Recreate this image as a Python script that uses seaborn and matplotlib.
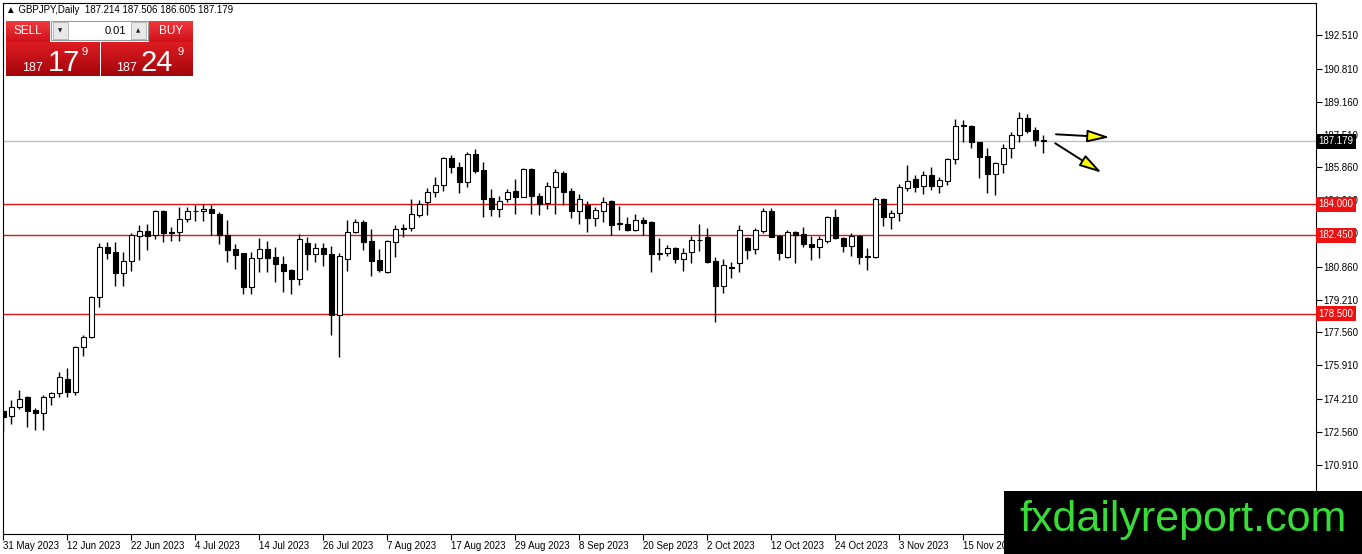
import numpy as np
import pandas as pd
import matplotlib
matplotlib.use("Agg")
import matplotlib.pyplot as plt
import matplotlib.transforms as mtransforms
from matplotlib.patches import Rectangle
from matplotlib.colors import LinearSegmentedColormap
import seaborn as sns

# GBPJPY daily candles, 31 May 2023 .. 29 Nov 2023
opens = [173.63, 173.36, 173.83, 174.31, 173.67, 173.50, 174.31, 174.51, 175.21, 174.59,
         176.82, 177.35, 179.36, 181.84, 181.59, 180.57, 181.17, 182.41, 182.65, 182.45,
         183.67, 182.58, 182.60, 183.25, 183.66, 183.65, 183.77, 183.51, 182.46, 181.74,
         181.54, 179.86, 181.29, 181.74, 181.34, 181.00, 180.70, 180.23, 182.04, 181.49,
         181.79, 181.49, 178.43, 181.25, 182.60, 183.13, 182.16, 181.20, 180.59, 182.12,
         182.81, 182.80, 183.46, 184.10, 184.61, 184.97, 186.31, 185.86, 185.14, 186.52,
         185.73, 184.30, 183.75, 184.27, 184.67, 184.39, 185.79, 184.42, 184.08, 184.89,
         185.59, 184.69, 183.68, 183.97, 183.33, 183.68, 184.17, 183.08, 183.01, 182.71,
         183.21, 183.13, 181.49, 181.57, 181.82, 181.24, 181.59, 182.19, 182.34, 181.15,
         179.91, 180.85, 181.04, 182.29, 181.74, 182.68, 183.67, 182.41, 181.37, 182.60,
         182.51, 182.01, 181.87, 182.17, 183.35, 182.29, 181.92, 182.41, 181.35, 181.37,
         184.25, 183.38, 183.55, 184.81, 185.27, 184.92, 185.48, 184.94, 185.19, 186.26,
         187.97, 187.94, 187.12, 186.43, 185.51, 186.01, 186.82, 187.49, 188.32, 187.74,
         187.214]
highs = [173.67, 174.17, 174.67, 174.37, 173.77, 174.42, 174.59, 175.59, 175.76, 176.90,
         177.43, 179.40, 182.04, 182.09, 182.09, 181.59, 182.55, 182.96, 183.01, 183.72,
         183.72, 182.88, 183.88, 183.85, 183.97, 184.00, 183.97, 183.60, 183.21, 182.01,
         181.56, 181.62, 182.29, 182.16, 181.84, 181.42, 180.75, 182.51, 182.38, 182.04,
         182.04, 181.91, 181.54, 183.21, 183.25, 183.21, 182.75, 181.75, 182.21, 182.96,
         183.01, 184.25, 184.22, 184.81, 185.36, 186.36, 186.48, 186.14, 186.65, 186.77,
         186.14, 184.76, 184.42, 184.76, 185.26, 185.82, 185.82, 184.56, 185.11, 185.78,
         185.69, 184.81, 184.51, 184.18, 183.88, 184.38, 184.20, 183.92, 183.35, 183.52,
         183.38, 183.15, 182.29, 181.96, 181.87, 181.79, 182.41, 183.01, 182.80, 181.37,
         181.24, 181.12, 182.96, 182.34, 182.80, 183.80, 183.80, 182.46, 182.71, 182.68,
         182.85, 182.41, 182.41, 183.43, 183.77, 182.34, 182.55, 182.46, 181.82, 184.35,
         184.30, 183.72, 185.01, 185.98, 185.48, 185.69, 185.89, 185.39, 186.34, 188.29,
         188.24, 187.99, 187.14, 186.82, 186.11, 187.02, 187.65, 188.66, 188.53, 187.87,
         187.506]
lows = [172.58, 172.96, 173.70, 172.83, 172.66, 172.66, 173.92, 174.31, 174.34, 174.42,
        176.38, 177.27, 178.83, 181.24, 179.90, 179.90, 180.67, 181.20, 181.70, 182.25,
        182.12, 182.17, 182.17, 183.10, 183.16, 183.16, 182.46, 182.03, 181.09, 180.75,
        179.48, 179.48, 180.62, 180.62, 180.09, 179.59, 179.49, 179.94, 180.70, 181.12,
        180.90, 177.42, 176.31, 180.67, 182.55, 181.70, 180.42, 180.62, 180.55, 181.37,
        182.34, 182.68, 183.38, 183.46, 184.35, 184.69, 185.56, 184.55, 184.86, 185.56,
        183.35, 183.40, 183.35, 184.13, 183.52, 184.36, 183.52, 183.46, 183.75, 183.52,
        183.98, 183.33, 183.01, 182.63, 182.91, 183.13, 182.46, 182.71, 182.68, 182.68,
        182.46, 180.60, 181.20, 181.40, 181.04, 180.67, 181.04, 181.65, 181.07, 178.10,
        179.56, 180.28, 180.60, 181.24, 181.50, 182.55, 182.34, 181.20, 181.29, 181.07,
        181.84, 181.20, 181.29, 182.07, 182.24, 181.62, 181.40, 181.00, 180.70, 181.32,
        182.93, 182.75, 183.18, 184.67, 184.64, 184.52, 184.72, 184.55, 184.97, 186.01,
        187.15, 186.82, 185.31, 184.59, 184.47, 185.59, 186.31, 187.12, 187.57, 186.92,
        186.605]
closes = [173.33, 173.83, 174.23, 173.63, 173.50, 174.31, 174.51, 175.31, 174.59, 176.82,
          177.35, 179.36, 181.87, 181.57, 180.57, 181.17, 182.46, 182.68, 182.41, 183.65,
          182.55, 182.62, 183.25, 183.67, 183.69, 183.77, 183.55, 182.46, 181.71, 181.45,
          179.86, 181.32, 181.74, 181.32, 181.00, 180.67, 180.23, 182.24, 181.49, 181.79,
          181.49, 178.43, 181.41, 182.60, 183.10, 182.12, 181.17, 180.70, 182.16, 182.75,
          182.75, 183.51, 184.02, 184.61, 184.97, 186.31, 185.86, 185.11, 186.52, 185.69,
          184.28, 183.75, 184.18, 184.64, 184.39, 185.79, 184.42, 184.02, 184.92, 185.61,
          184.64, 183.68, 184.25, 183.33, 183.72, 184.13, 182.96, 182.99, 182.71, 183.21,
          183.08, 181.49, 181.57, 181.79, 181.24, 181.57, 182.21, 182.23, 181.12, 179.91,
          180.95, 180.80, 182.71, 181.70, 182.71, 183.67, 182.38, 181.57, 182.60, 182.46,
          181.99, 181.87, 182.24, 183.35, 182.29, 181.92, 182.41, 181.37, 181.40, 184.25,
          183.38, 183.55, 184.86, 185.19, 184.89, 185.48, 184.94, 185.22, 186.28, 187.94,
          187.93, 187.12, 186.40, 185.51, 186.06, 186.85, 187.49, 188.32, 187.70, 187.23,
          187.179]

date_labels = ["31 May 2023", "12 Jun 2023", "22 Jun 2023", "4 Jul 2023", "14 Jul 2023",
               "26 Jul 2023", "7 Aug 2023", "17 Aug 2023", "29 Aug 2023", "8 Sep 2023",
               "20 Sep 2023", "2 Oct 2023", "12 Oct 2023", "24 Oct 2023", "3 Nov 2023",
               "15 Nov 2023", "27 Nov 2023"]
price_ticks = [192.51, 190.81, 189.16, 187.51, 185.86, 184.21, 182.56, 180.86,
               179.21, 177.56, 175.91, 174.21, 172.56, 170.91]
levels = [184.0, 182.45, 178.5]
last_price = 187.179
header = "\u25b2 GBPJPY,Daily  187.214 187.506 186.605 187.179"
# hand-drawn arrows on the chart (bar index, price)
arrow_start = [(131.6, 187.52), (131.5, 187.07)]
arrow_end = [(138.3, 187.37), (137.3, 185.59)]

W, H = 1362, 554

sns.set_style("white")
plt.rcParams["font.family"] = ["Liberation Sans", "DejaVu Sans"]

df = pd.DataFrame({"open": opens, "high": highs, "low": lows, "close": closes})
df["date"] = pd.bdate_range("2023-05-31", periods=len(df))
df["x"] = np.arange(len(df))
df["up"] = df["close"] >= df["open"]
df["bottom"] = df[["open", "close"]].min(axis=1)
df["body"] = (df["close"] - df["open"]).abs()

fig = plt.figure(figsize=(W / 100, H / 100), dpi=100)
fig.patch.set_facecolor("white")
ax = fig.add_axes([3 / W, 20 / H, 1313 / W, 531 / H])
ax.set_facecolor("white")

# level lines and current price line
for lv in levels:
    ax.axhline(lv, color="#dd1515", lw=1, zorder=1)
ax.axhline(last_price, color="#c0c0c0", lw=1, zorder=1)

# candles
ax.vlines(df["x"], df["low"], df["high"], color="black", lw=1, zorder=2)
ax.bar(df["x"], df["body"], bottom=df["bottom"], width=0.6,
       color=np.where(df["up"], "white", "black"), edgecolor="black", lw=0.8, zorder=3)

for (x0, y0), (x1, y1) in zip(arrow_start, arrow_end):
    ax.annotate("", xy=(x1, y1), xytext=(x0, y0), zorder=6,
                arrowprops=dict(arrowstyle="-|>,head_length=0.9,head_width=0.25",
                                fc="#ffff00", ec="black", lw=1.4, mutation_scale=15,
                                shrinkA=0, shrinkB=0))

ax.set_xlim(-0.04, 164.1)
ax.set_ylim(167.43, 194.12)

# axes
for sp in ax.spines.values():
    sp.set_color("black")
    sp.set_linewidth(0.8)
ax.yaxis.tick_right()
ax.set_yticks(price_ticks)
ax.set_yticklabels([f"{v:.3f}" for v in price_ticks])
tick_pos = [df.index[df["date"] == pd.to_datetime(d, format="%d %b %Y")][0] for d in date_labels]
ax.set_xticks(tick_pos)
ax.set_xticklabels(date_labels)
for lbl in ax.get_xticklabels():
    lbl.set_horizontalalignment("left")
ax.tick_params(axis="both", direction="out", length=4, width=0.8, colors="black",
               labelsize=7, pad=1)
ax.tick_params(axis="y", left=False, right=True)
ax.tick_params(axis="x", bottom=True)

# price labels on the right axis (they sit over the tick labels, as in the terminal)
trans = mtransforms.blended_transform_factory(ax.transAxes, ax.transData)
for lv in levels:
    ax.text(1.0018, lv, f"{lv:.3f}", transform=trans, ha="left", va="center", color="white",
            fontsize=7, clip_on=False, zorder=8,
            bbox=dict(boxstyle="square,pad=0.25", fc="#ee1111", ec="none"))
ax.text(1.0018, last_price, f"{last_price:.3f}", transform=trans, ha="left", va="center",
        color="white", fontsize=7, clip_on=False, zorder=8,
        bbox=dict(boxstyle="square,pad=0.25", fc="black", ec="none"))


# one-click trading panel (pixel layout helpers)
def fx(x):
    return x / W


def fy(y):
    return 1 - y / H


def grad_box(x0, y0, x1, y1, c_top, c_bot):
    a = fig.add_axes([fx(x0), fy(y1), (x1 - x0) / W, (y1 - y0) / H], zorder=5)
    cmap = LinearSegmentedColormap.from_list("g", [c_top, c_bot])
    a.imshow(np.linspace(0, 1, 40).reshape(-1, 1), cmap=cmap, aspect="auto")
    a.set_axis_off()


def ftext(x, y, s, **kw):
    fig.text(fx(x), fy(y), s, color=kw.pop("color", "white"), zorder=10, **kw)


fig.text(fx(6), fy(10), header, fontsize=7, va="center", ha="left", color="black",
         zorder=10)

grad_box(6, 21, 50, 42, "#f2393e", "#cf111a")
grad_box(149, 21, 193, 42, "#f2393e", "#cf111a")
grad_box(6, 42, 99, 76, "#dd1c22", "#a3050b")
grad_box(101, 42, 193, 76, "#dd1c22", "#a3050b")
fig.add_artist(Rectangle((fx(51), fy(40)), 97 / W, 19 / H, transform=fig.transFigure,
                         fc="white", ec="#9a9a9a", lw=0.8, zorder=6))
for bx0 in (53, 131):
    fig.add_artist(Rectangle((fx(bx0), fy(39)), 15 / W, 17 / H, transform=fig.transFigure,
                             fc="#e8e8e8", ec="#b0b0b0", lw=0.6, zorder=7))
ftext(60.5, 31, "\u25bc", fontsize=4, ha="center", va="center", color="#222222",
      family=["DejaVu Sans"])
ftext(138.5, 31, "\u25b2", fontsize=4, ha="center", va="center", color="#222222",
      family=["DejaVu Sans"])
ftext(126, 31, "0.01", fontsize=8, ha="right", va="center", color="black")
ftext(28, 31.5, "SELL", fontsize=8.5, ha="center", va="center")
ftext(171, 31.5, "BUY", fontsize=8.5, ha="center", va="center")
ftext(22, 71, "187", fontsize=9, ha="left", va="baseline")
ftext(48, 71, "17", fontsize=21, ha="left", va="baseline")
ftext(82, 55, "9", fontsize=8, ha="left", va="baseline")
ftext(116, 71, "187", fontsize=9, ha="left", va="baseline")
ftext(140, 71, "24", fontsize=21, ha="left", va="baseline")
ftext(177, 55, "9", fontsize=8, ha="left", va="baseline")

# watermark
fig.add_artist(Rectangle((fx(1004), 0), (W - 1004) / W, 63 / H, transform=fig.transFigure,
                         fc="black", ec="none", zorder=9))
fig.text(fx(1183), fy(520), "fxdailyreport.com", color="#38dc38", fontsize=31,
         ha="center", va="center", zorder=10)

fig.savefig("out.png", dpi=100, facecolor="white")
